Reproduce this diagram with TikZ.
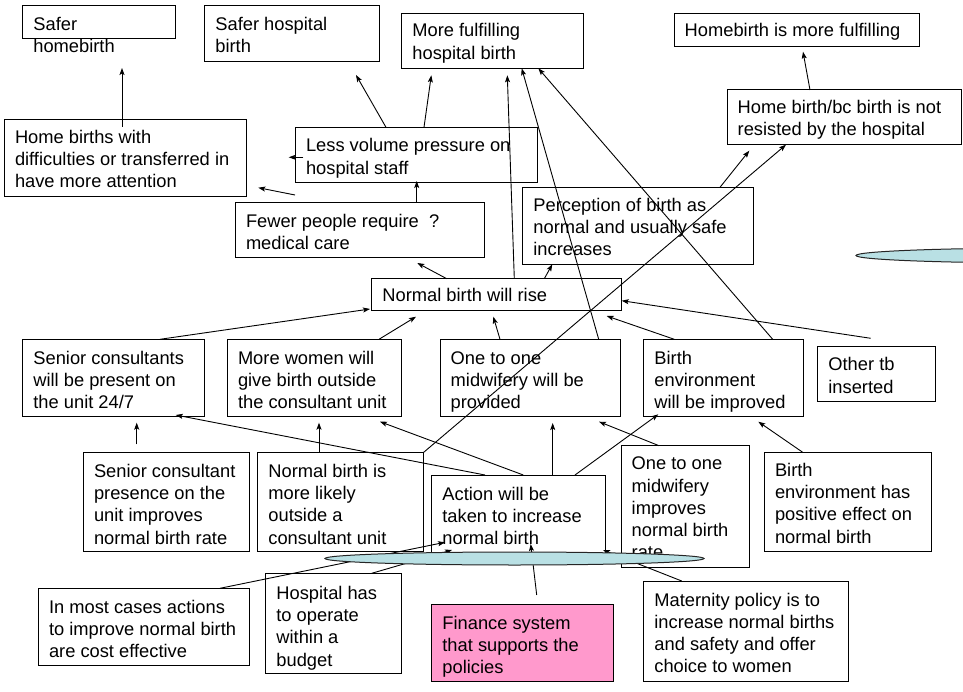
\documentclass[tikz,border=0pt]{standalone}
\usepackage{fontspec}
\setmainfont{Liberation Sans}
\usetikzlibrary{arrows.meta}
\definecolor{ovalfill}{RGB}{185,224,228}
\definecolor{pinkfill}{RGB}{255,153,204}
% box text: width, height, first-baseline offset, lines
\newcommand\bxt[4]{%
  \begin{minipage}[t][#2pt][t]{#1pt}%
  \raggedright\leftskip=10.7pt\relax\rightskip=-40pt plus 1fil\relax
  \vspace*{\dimexpr #3pt - 15pt\relax}%
  \rule{0pt}{15pt}#4\par
  \end{minipage}}
\begin{document}
\begin{tikzpicture}[x=1pt,y=-1pt,
  box/.style={draw=black, line width=1pt, fill=white, inner sep=0pt, outer sep=0pt,
    anchor=north west, font=\fontsize{18.3}{22.3}\selectfont},
  link/.style={draw=black, line width=0.9pt, -{Stealth[length=7pt,width=5pt,inset=1.5pt]}},
  oval/.style={draw=black!85, line width=1pt, fill=ovalfill}]
\fill[white] (0,0) rectangle (963,692);
\useasboundingbox (0,0) rectangle (963,692);

% top row: outcomes
\node[box] (safehome)  at (22.7,6)    {\bxt{153}{33}{24.5}{Safer\\homebirth}};
\node[box] (safehosp)  at (204.7,6)   {\bxt{174.3}{55.3}{24.7}{Safer hospital\\birth}};
\node[box] (morefulf)  at (401.7,13.7) {\bxt{181.6}{55}{23.3}{More fulfilling\\hospital birth}};
\node[box] (homefulf)  at (674,13.7)  {\bxt{245.3}{33}{23.3}{Homebirth is more fulfilling}};
\node[box] (notresist) at (727,90)    {\bxt{234}{54.7}{23.3}{Home birth/bc birth is not\\resisted by the hospital}};

% intermediate effects
\node[box] (homediff)  at (4.3,119.3)   {\bxt{242.4}{77.7}{24}{Home births with\\difficulties or transferred in\\have more attention}};
\node[box] (lessvol)   at (295.3,127.3) {\bxt{242}{55}{24.5}{Less volume pressure on\\hospital staff}};
\node[box] (fewer)     at (235.3,202.7) {\bxt{249.4}{55.3}{25}{Fewer people require \ ?\\medical care}};
\node[box] (percep)    at (522.7,187.3) {\bxt{230.6}{77.7}{24}{Perception of birth as\\normal and usually safe\\increases}};
\node[box] (nbrise)    at (371.7,278.7) {\bxt{249.3}{32.3}{23}{Normal birth will rise}};

% planned changes
\node[box] (seniorc)   at (22.7,339.3)  {\bxt{181.6}{77.4}{25}{Senior consultants\\will be present on\\the unit 24/7}};
\node[box] (morewomen) at (227.3,339.3) {\bxt{174.4}{77.4}{25}{More women will\\give birth outside\\the consultant unit}};
\node[box] (onetoone)  at (440,339.3)   {\bxt{180.7}{77.4}{25}{One to one\\midwifery will be\\provided}};
\node[box] (birthenv)  at (643.7,339.3) {\bxt{159.3}{77.4}{25}{Birth\\environment\\will be improved}};
\node[box] (othertb)   at (817.7,346.7) {\bxt{117.6}{55}{24}{Other tb\\inserted}};

% assumptions and actions
\node[box] (seniorp)   at (83.3,452.3)  {\bxt{166.4}{99.4}{25}{Senior consultant\\presence on the\\unit improves\\normal birth rate}};
\node[box] (nbmore)    at (257.7,452.3) {\bxt{166}{99.4}{25}{Normal birth is\\more likely\\outside a\\consultant unit}};
\node[box] (action)    at (431.7,475)   {\bxt{174}{80}{25}{Action will be\\taken to increase\\normal birth}};
\node[box] (onetoimp)  at (621,445.7)   {\bxt{128.3}{121.6}{24}{One to one\\midwifery\\improves\\normal birth\\rate}};
\node[box] (benvpos)   at (764.3,452.3) {\bxt{167.4}{99.4}{24}{Birth\\environment has\\positive effect on\\normal birth}};

% bottom row
\node[box] (cost)       at (38.3,588.3)  {\bxt{211.4}{77.4}{25}{In most cases actions\\to improve normal birth\\are cost effective}};
\node[box] (hospbudget) at (265.7,573.3) {\bxt{135.3}{100}{26}{Hospital has\\to operate\\within a\\budget}};
\node[box, fill=pinkfill] (finance) at (431.7,604) {\bxt{181.6}{77.3}{25}{Finance system\\that supports the\\policies}};
\node[box] (maternity)  at (643.7,581)   {\bxt{204.6}{100}{25}{Maternity policy is to\\increase normal births\\and safety and offer\\choice to women}};

% connectors
\draw[link] ([shift={(117.7,7.7)}]homediff.north west) -- ([shift={(99.3,62)}]safehome.north west);
\draw[link] ([shift={(90.7,0)}]lessvol.north west) -- ([shift={(151.3,69)}]safehosp.north west);
\draw[link] ([shift={(128.7,0)}]lessvol.north west) -- ([shift={(29.6,61.6)}]morefulf.north west);
\draw[link] ([shift={(8,30)}]lessvol.north west) -- ([shift={(284.4,38)}]homediff.north west);
\draw[link] ([shift={(59.7,-7.7)}]fewer.north west) -- ([shift={(254,68.4)}]homediff.north west);
\draw[link] ([shift={(181.4,0)}]fewer.north west) -- ([shift={(121.4,53.7)}]lessvol.north west);
\draw[link] ([shift={(75,0)}]nbrise.north west) -- ([shift={(182,60.3)}]fewer.north west);
\draw[link] ([shift={(142.6,0)}]nbrise.north west) -- ([shift={(105.6,61.6)}]morefulf.north west);
\draw[link] ([shift={(158.7,0)}]onetoone.north west) -- ([shift={(120,54.6)}]morefulf.north west);
\draw[link] ([shift={(129,0)}]birthenv.north west) -- ([shift={(136.6,54.6)}]morefulf.north west);
\draw[link] ([shift={(83,0)}]notresist.north west) -- ([shift={(129,38)}]homefulf.north west);
\draw[link] ([shift={(172.6,0)}]nbrise.north west) -- ([shift={(29.6,77)}]percep.north west);
\draw[link] ([shift={(197.3,0)}]percep.north west) -- ([shift={(22.3,60.7)}]notresist.north west);
\draw[link] (nbmore.north east) -- ([shift={(59,54.7)}]notresist.north west);
\draw[link] ([shift={(137.3,0)}]seniorc.north west) -- ([shift={(-1.7,30.3)}]nbrise.north west);
\draw[link] ([shift={(151.7,0)}]morewomen.north west) -- ([shift={(44.3,38)}]nbrise.north west);
\draw[link] ([shift={(60,0)}]onetoone.north west) -- ([shift={(121.6,38)}]nbrise.north west);
\draw[link] ([shift={(30.6,0)}]birthenv.north west) -- ([shift={(235,37.3)}]nbrise.north west);
\draw[link] ([shift={(53,-8.4)}]othertb.north west) -- ([shift={(250,22)}]nbrise.north west);
\draw[link] ([shift={(53.4,-8)}]seniorp.north west) -- ([shift={(114,83.4)}]seniorc.north west);
\draw[link] ([shift={(61.3,0)}]nbmore.north west) -- ([shift={(91.7,83.4)}]morewomen.north west);
\draw[link] ([shift={(53.3,0)}]action.north west) -- ([shift={(153,75.7)}]seniorc.north west);
\draw[link] ([shift={(91.6,0)}]action.north west) -- ([shift={(152.7,82.4)}]morewomen.north west);
\draw[link] ([shift={(121,0)}]action.north west) -- ([shift={(112.7,83.7)}]onetoone.north west);
\draw[link] ([shift={(143.3,0)}]action.north west) -- ([shift={(14.6,75)}]birthenv.north west);
\draw[link] ([shift={(38,0)}]onetoimp.north west) -- ([shift={(159,82.4)}]onetoone.north west);
\draw[link] ([shift={(38.4,0)}]benvpos.north west) -- ([shift={(114.6,82.4)}]birthenv.north west);
\draw[link] ([shift={(181.7,0)}]cost.north west) -- ([shift={(13.3,67.3)}]action.north west);
\draw[link] ([shift={(106,0)}]hospbudget.north west) -- ([shift={(20.3,75)}]action.north west);
\draw[link] ([shift={(105,-9)}]finance.north west) -- ([shift={(99,69)}]action.north west);
\draw[link] ([shift={(38,0)}]maternity.north west) -- ([shift={(171.3,75)}]action.north west);

% ovals
\path[oval] (514.5,558.5) ellipse [x radius=189.5pt, y radius=6.5pt];
\begin{scope}
  \clip (0,0) rectangle (963,692);
  \path[oval] (1046,255.5) ellipse [x radius=190pt, y radius=7.5pt];
\end{scope}
\end{tikzpicture}
\end{document}
